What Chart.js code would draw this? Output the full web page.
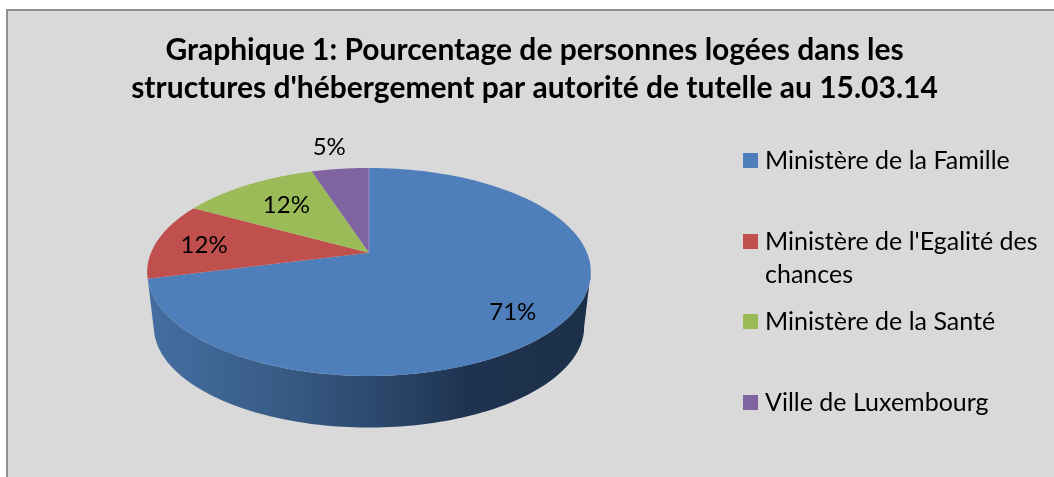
<!DOCTYPE html>
<html>
<head>
<meta charset="utf-8">
<style>
  html, body { margin: 0; padding: 0; background: #fff; }
  canvas { display: block; }
</style>
<script src="https://cdn.jsdelivr.net/npm/chart.js@4/dist/chart.umd.min.js"></script>
</head>
<body>
<div style="width:1054px;height:477px"><canvas id="myChart" width="1054" height="477"></canvas></div>
<script>
const titleLines = ['Graphique 1: Pourcentage de personnes logées dans les', "structures d'hébergement par autorité de tutelle au 15.03.14"];
const categories = ['Ministère de la Famille', ["Ministère de l'Egalité des", 'chances'], 'Ministère de la Santé', 'Ville de Luxembourg'];
const shares = [71, 12, 12, 5];
const sliceColors = ['#4f7fbb', '#c0504d', '#9bbb59', '#8064a2'];

// fake 3D settings
const stretchX = 2.171, tilt = 0.1856, depth = 55.3, baseScale = 0.97;
const legendRowY = [161, 242, 322, 403];
// radius factor, dx, dy for each value label
const labelSpots = [[0.74, 0, 8], [0.78, 0, 2], [0.68, 0, -1], [1.24, -4, -1]];

function project(el, angle, scale, dy) {
    const u = Math.cos(angle), v = Math.sin(angle);
    const s = scale / (1 - tilt * v);
    return {
        x: el.x + el.outerRadius * stretchX * u * s,
        y: el.y + dy + el.outerRadius * v * s
    };
}

function tracePoints(ctx, el, from, to, scale, dy, first) {
    const steps = 120;
    for (let i = 0; i <= steps; i++) {
        const p = project(el, from + (to - from) * i / steps, scale, dy);
        if (i === 0 && first) ctx.moveTo(p.x, p.y);
        else ctx.lineTo(p.x, p.y);
    }
}

const framePlugin = {
    id: 'frame',
    beforeDraw(chart) {
        const ctx = chart.ctx;
        ctx.save();
        ctx.fillStyle = '#ffffff';
        ctx.fillRect(0, 0, chart.width, chart.height);
        ctx.fillStyle = '#d9d9d9';
        ctx.fillRect(7, 10, chart.width, chart.height);
        ctx.strokeStyle = '#8e8e8e';
        ctx.lineWidth = 2;
        ctx.strokeRect(7, 10, chart.width + 10, chart.height + 10);
        ctx.restore();
    },
    afterLayout(chart) {
        // the title is centred on the frame, not on the pie
        chart.titleBlock.left = 15;
        chart.titleBlock.right = 1054;
    }
};

const pie3dPlugin = {
    id: 'pie3d',
    beforeDatasetsDraw(chart) {
        const ctx = chart.ctx;
        const arcs = chart.getDatasetMeta(0).data;
        const first = arcs[0];

        // side wall of the front slice
        const g = ctx.createLinearGradient(147, 0, 590, 0);
        g.addColorStop(0, '#456fa1');
        g.addColorStop(0.3, '#385b86');
        g.addColorStop(0.55, '#2a4669');
        g.addColorStop(0.72, '#1e3350');
        g.addColorStop(1, '#1d3049');
        const a1 = Math.asin(tilt);
        ctx.save();
        ctx.beginPath();
        tracePoints(ctx, first, a1, first.endAngle, 1, 0, true);
        tracePoints(ctx, first, first.endAngle, a1, baseScale, depth, false);
        ctx.closePath();
        ctx.fillStyle = g;
        ctx.fill();

        // top faces
        arcs.forEach((el, i) => {
            ctx.beginPath();
            ctx.moveTo(el.x, el.y);
            tracePoints(ctx, el, el.startAngle, el.endAngle, 1, 0, false);
            ctx.closePath();
            ctx.fillStyle = sliceColors[i];
            ctx.fill();
        });

        // faint light edge where the last slice meets the first
        const edge = project(first, first.startAngle, 1, 0);
        ctx.beginPath();
        ctx.moveTo(first.x, first.y);
        ctx.lineTo(edge.x, edge.y);
        ctx.strokeStyle = 'rgba(255,255,255,0.25)';
        ctx.lineWidth = 1;
        ctx.stroke();
        ctx.restore();
        return false;
    },
    // returning false above also skips afterDatasetsDraw, so labels go here
    afterDraw(chart) {
        const ctx = chart.ctx;
        const arcs = chart.getDatasetMeta(0).data;
        ctx.save();
        ctx.fillStyle = '#000000';
        ctx.font = '24px Lato';
        ctx.textAlign = 'center';
        ctx.textBaseline = 'middle';
        arcs.forEach((el, i) => {
            const mid = (el.startAngle + el.endAngle) / 2;
            const p = project(el, mid, labelSpots[i][0], labelSpots[i][2]);
            ctx.fillText(shares[i] + '%', p.x + labelSpots[i][1], p.y);
        });

        // legend
        ctx.font = '25px Lato';
        ctx.textAlign = 'left';
        ctx.textBaseline = 'alphabetic';
        categories.forEach((cat, i) => {
            const y = legendRowY[i];
            ctx.fillStyle = sliceColors[i];
            ctx.fillRect(743, y - 8, 15, 15);
            ctx.fillStyle = '#000000';
            const lines = Array.isArray(cat) ? cat : [cat];
            lines.forEach((line, n) => ctx.fillText(line, 765, y + 7.6 + n * 33));
        });
        ctx.restore();
    }
};

const myChart = new Chart(document.getElementById('myChart').getContext('2d'), {
    type: 'pie',
    data: {
        labels: categories,
        datasets: [{
            data: shares,
            backgroundColor: sliceColors,
            borderWidth: 0
        }]
    },
    plugins: [framePlugin, pie3dPlugin],
    options: {
        responsive: false,
        animation: false,
        layout: {
            padding: { left: 268.6, right: 584.6, top: 0, bottom: 123.9 }
        },
        plugins: {
            legend: { display: false },
            tooltip: { enabled: false },
            title: {
                display: true,
                text: titleLines,
                color: '#000000',
                font: { family: 'Lato', size: 30, weight: 'bold', lineHeight: 1.27 },
                padding: { top: 31, bottom: 45 }
            }
        }
    }
});
</script>
</body>
</html>
